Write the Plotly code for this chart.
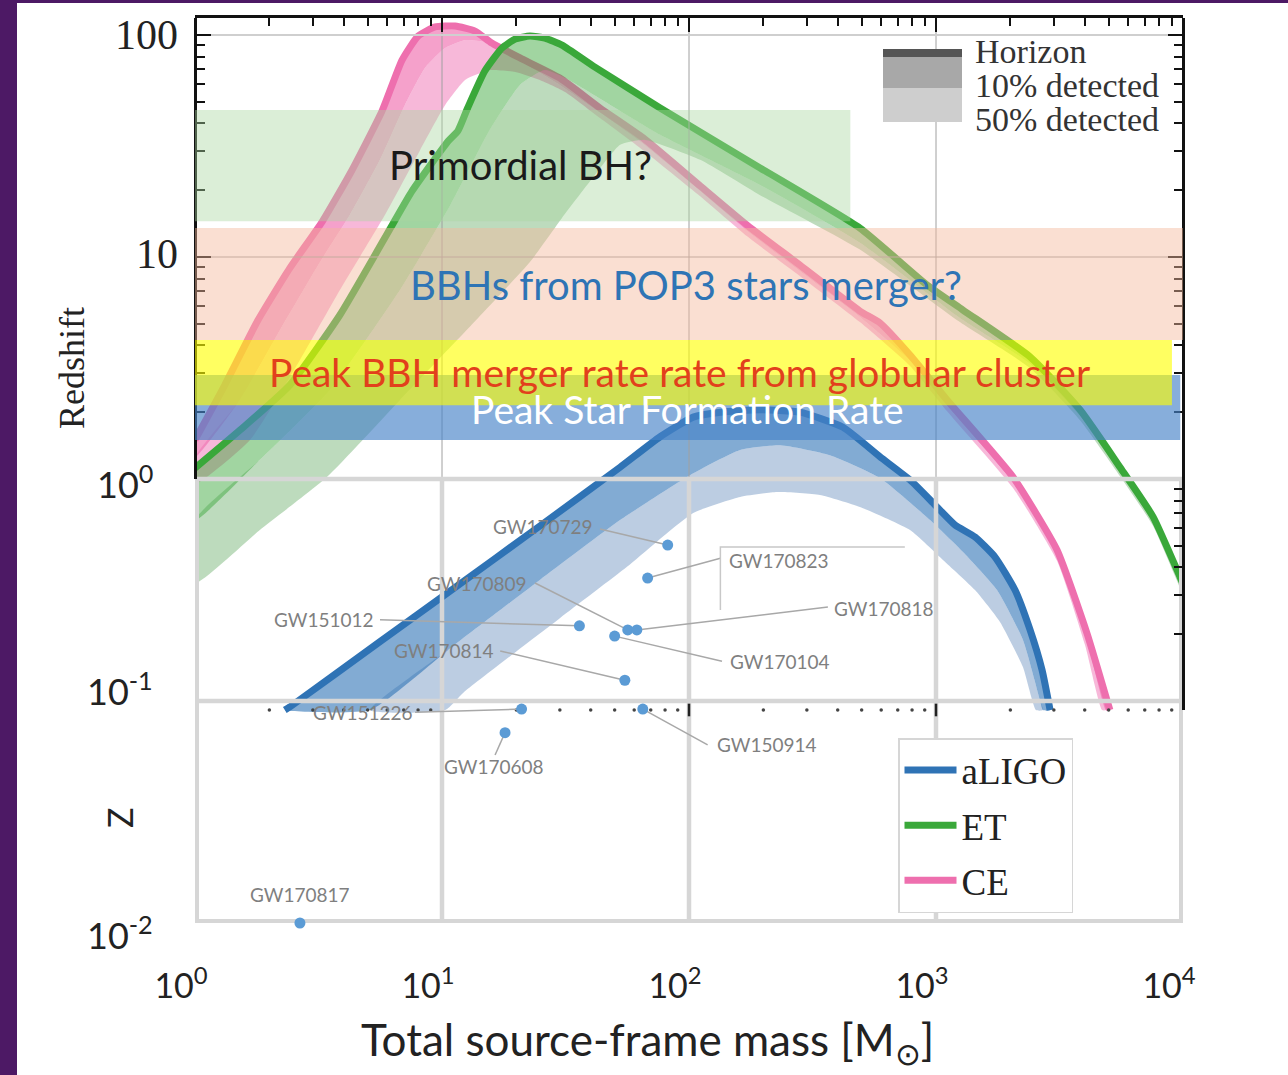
import numpy as np
import plotly.graph_objects as go

# ---------------- axis extents (data units) ----------------
mass_min, mass_max = 1.0, 1.0e4
z_min, z_max = 0.01, 119.3
z_panel_bottom = 0.0911   # lower edge of the original (upper) panel
z_panel_split = 1.0       # thin grid above, thick grid below

x_tick_vals = [1, 10, 100, 1000, 10000]
x_tick_text = ["10<sup>0</sup>", "10<sup>1</sup>", "10<sup>2</sup>", "10<sup>3</sup>", "10<sup>4</sup>"]
y_tick_vals = [100, 10, 1, 0.1, 0.01]
y_tick_text = ["100", "10", "10<sup>0</sup>", "10<sup>-1</sup>", "10<sup>-2</sup>"]
y_tick_serif = [True, True, False, False, False]

# ---------------- detector curves: total mass [Msun], redshift ----------------
aligo_hor_m = [2.31, 2.42, 5.61, 10.5, 24.9, 52.6, 76.4, 104, 134, 194, 281, 420, 593, 785, 991, 1194, 1439, 1734, 2089, 2404, 2687, 2897]
aligo_hor_z = [0.091, 0.094, 0.185, 0.306, 0.614, 1.13, 1.55, 1.90, 2.00, 2.05, 2.00, 1.71, 1.26, 0.99, 0.764, 0.621, 0.548, 0.445, 0.316, 0.209, 0.138, 0.091]
aligo_p10_m = [5.11, 10.8, 24.9, 52.6, 101, 161, 234, 372, 593, 946, 1286, 1766, 2251, 2636, 2710]
aligo_p10_z = [0.091, 0.173, 0.351, 0.653, 1.04, 1.35, 1.42, 1.28, 1.01, 0.653, 0.469, 0.316, 0.188, 0.101, 0.091]
aligo_p50_m = [10.3, 12.2, 30.0, 56.1, 104, 161, 227, 339, 492, 785, 1067, 1439, 1816, 2251, 2541]
aligo_p50_z = [0.091, 0.109, 0.236, 0.402, 0.703, 0.830, 0.873, 0.847, 0.748, 0.589, 0.432, 0.316, 0.227, 0.142, 0.091]

et_hor_m = [1.00, 1.52, 2.42, 3.86, 6.28, 7.56, 10.6, 11.6, 12.7, 14.9, 17.5, 19.8, 22.7, 26.1, 30.6, 41.6, 76.4, 194, 492, 920, 1286, 2404, 3828, 5559, 7568, 9727, 10670]
et_hor_z = [1.12, 1.66, 2.65, 5.48, 13.9, 19.8, 33.3, 37.0, 46.9, 68.8, 87.4, 95.9, 98.9, 96.9, 90.1, 71.7, 46.9, 25.2, 13.5, 7.48, 5.77, 3.55, 2.05, 1.13, 0.675, 0.362, 0.285]
et_p10_m = [1.00, 1.83, 3.52, 6.76, 10.8, 15.6, 20.7, 26.1, 31.5, 76.4, 194, 492, 1250, 2404, 3828, 5559, 7568, 10670]
et_p10_z = [0.653, 1.22, 2.52, 7.10, 17.1, 37.3, 59.6, 69.5, 64.0, 35.5, 21.1, 11.6, 5.31, 3.30, 1.92, 1.08, 0.640, 0.270]
et_p50_m = [1.00, 1.83, 3.42, 6.76, 14.0, 22.7, 30.6, 41.6, 52.6, 66.4, 111, 194, 492, 1250, 2404, 3828, 5559, 7568, 10670]
et_p50_z = [0.340, 0.589, 1.02, 2.27, 5.31, 9.49, 15.0, 23.4, 32.0, 33.7, 27.4, 19.0, 10.8, 5.09, 3.16, 1.84, 1.03, 0.614, 0.257]

ce_hor_m = [1.00, 1.32, 1.80, 2.42, 3.27, 4.32, 5.72, 6.89, 8.00, 9.37, 11.3, 13.6, 15.9, 20.7, 30.0, 43.6, 65.2, 111, 172, 281, 492, 593, 785, 1109, 2051, 3090, 4085, 5058]
ce_hor_z = [1.50, 2.65, 5.20, 8.91, 14.4, 24.6, 45.5, 77.1, 98.9, 108.7, 109.8, 104.2, 92.0, 78.8, 64.0, 46.9, 34.4, 20.9, 13.9, 9.2, 5.71, 5.05, 3.62, 2.27, 1.02, 0.479, 0.202, 0.091]
ce_p10_m = [1.00, 1.52, 2.21, 3.21, 4.24, 5.61, 7.08, 8.53, 10.3, 12.4, 14.9, 18.0, 22.7, 30.0, 43.6, 65.2, 111, 172, 281, 492, 785, 1109, 2051, 3090, 4085, 4876]
ce_p10_z = [1.25, 2.27, 4.69, 9.49, 15.5, 27.4, 48.4, 71.0, 87.4, 94.9, 93.0, 83.8, 71.7, 59.6, 44.6, 32.3, 19.8, 13.1, 8.65, 5.37, 3.41, 2.13, 0.960, 0.450, 0.188, 0.091]
ce_p50_m = [1.00, 1.67, 2.66, 3.86, 5.88, 8.15, 10.3, 12.4, 15.6, 19.8, 24.9, 31.5, 43.6, 65.2, 111, 172, 281, 492, 785, 1109, 2051, 3090, 4009, 4700]
ce_p50_z = [0.95, 1.50, 3.44, 7.10, 15.5, 30.3, 48.4, 62.7, 69.5, 68.1, 62.7, 55.4, 42.3, 30.3, 18.8, 12.4, 8.21, 5.09, 3.23, 2.02, 0.910, 0.428, 0.179, 0.091]

# ---------------- detected events ----------------
ev_names = ["GW150914", "GW151012", "GW151226", "GW170104", "GW170608", "GW170729",
            "GW170809", "GW170814", "GW170817", "GW170818", "GW170823"]
ev_mass = [65, 36, 21, 50, 18, 82, 56.5, 55, 2.66, 61.5, 68]
ev_z = [0.092, 0.218, 0.092, 0.196, 0.072, 0.504, 0.209, 0.124, 0.0100, 0.209, 0.358]
lab_mass = [207, 3.33, 4.79, 233, 16.2, 25.6, 13.9, 10.2, 2.66, 615, 231]
lab_z = [0.0634, 0.232, 0.089, 0.151, 0.0509, 0.608, 0.337, 0.168, 0.0134, 0.262, 0.431]
lead_mass = [119, 5.61, 7.78, 136, 16.4, 43.6, 23.8, 17.2, None, 365, 134]
lead_z = [0.0634, 0.232, 0.089, 0.151, 0.0571, 0.596, 0.340, 0.168, None, 0.265, 0.44]
bracket_mass = [748, 134, 134]
bracket_z = [0.494, 0.494, 0.257]

# ---------------- shaded bands ----------------
band_labels = ["BBHs from POP3 stars merger?", "Peak Star Formation Rate",
               "Peak BBH merger rate rate from globular cluster", "Primordial BH?"]
band_mass_lo = [1, 1, 1, 1]
band_mass_hi = [10000, 9750, 9020, 450]
band_z_lo = [4.23, 1.50, 2.15, 14.5]
band_z_hi = [13.5, 2.94, 4.23, 46.0]
band_text_mass = [97.3, 98.2, 91.2, 20.7]
band_text_z = [7.48, 2.06, 3.02, 25.9]

legend2_labels = ["Horizon", "10% detected", "50% detected"]

# ---------------- styling ----------------
band_colors = ["rgba(245,185,155,0.45)", "rgba(70,130,200,0.65)",
               "rgba(255,255,0,0.62)", "rgba(170,215,160,0.42)"]
band_text_colors = ["#2e74b5", "#ffffff", "#e2401c", "#1a1a1a"]
band_text_sizes = [40, 39, 39, 40]
SANS = "Lato"
SERIF = "Liberation Serif"

W, H = 1288, 1075
ML, MR, MT, MB = 195, 105, 18, 152
PW, PH = W - ML - MR, H - MT - MB


def px_x(p):
    return (p - ML) / PW


def px_y(p):
    return 1 - (p - MT) / PH


ylog = [np.log10(z_min), np.log10(z_max)]
xlog = [np.log10(mass_min), np.log10(mass_max)]

fig = go.Figure()


def polygon(ma, za, mb, zb):
    return list(ma) + list(mb)[::-1] + [ma[0]], list(za) + list(zb)[::-1] + [za[0]]


detectors = [
    dict(name="aLIGO", color="#2f73b5", f10="rgba(47,115,181,0.60)", f50="rgba(95,135,185,0.42)",
         hor=(aligo_hor_m, aligo_hor_z), p10=(aligo_p10_m, aligo_p10_z), p50=(aligo_p50_m, aligo_p50_z), rank=1),
    dict(name="CE", color="#ee6fae", f10="rgba(240,110,175,0.65)", f50="rgba(240,125,185,0.55)",
         hor=(ce_hor_m, ce_hor_z), p10=(ce_p10_m, ce_p10_z), p50=(ce_p50_m, ce_p50_z), rank=3),
    dict(name="ET", color="#3aa83a", f10="rgba(58,168,58,0.48)", f50="rgba(90,165,90,0.40)",
         hor=(et_hor_m, et_hor_z), p10=(et_p10_m, et_p10_z), p50=(et_p50_m, et_p50_z), rank=2),
]
for d in detectors:
    xs, ys = polygon(*d["p10"], *d["p50"])
    fig.add_trace(go.Scatter(x=xs, y=ys, mode="lines", fill="toself", fillcolor=d["f50"],
                             line=dict(width=0, shape="spline", smoothing=0.5),
                             showlegend=False, hoverinfo="skip", legendgroup=d["name"]))
    xs, ys = polygon(*d["hor"], *d["p10"])
    fig.add_trace(go.Scatter(x=xs, y=ys, mode="lines", fill="toself", fillcolor=d["f10"],
                             line=dict(width=0, shape="spline", smoothing=0.5),
                             showlegend=False, hoverinfo="skip", legendgroup=d["name"]))
    fig.add_trace(go.Scatter(x=d["hor"][0], y=d["hor"][1], mode="lines", name=d["name"],
                             line=dict(color=d["color"], width=7, shape="spline", smoothing=0.5),
                             legendgroup=d["name"], legendrank=d["rank"], hoverinfo="skip"))


# ---------------- grid lines ----------------
def seg_trace(xs, ys, color, width):
    return go.Scatter(x=xs, y=ys, mode="lines", line=dict(color=color, width=width),
                      showlegend=False, hoverinfo="skip")


gx, gy = [], []
for v in x_tick_vals[1:-1]:
    gx += [v, v, None]
    gy += [z_panel_split, z_max, None]
gx += [mass_min, mass_max, None]
gy += [10, 10, None]
fig.add_trace(seg_trace(gx, gy, "#a0a0a0", 1))
fig.add_trace(seg_trace([mass_min, mass_max], [100, 100], "#cfcfcf", 2))

tx, ty = [], []
for v in x_tick_vals[1:-1]:
    tx += [v, v, None]
    ty += [z_min, z_panel_split, None]
for zv in [1, 0.1]:
    tx += [mass_min, mass_max, None]
    ty += [zv, zv, None]
fig.add_trace(seg_trace(tx, ty, "#d6d6d6", 4.5))
ex = [mass_min, mass_min, None, mass_max, mass_max, None, mass_min, mass_max]
ey = [z_min, z_panel_split, None, z_min, z_panel_split, None, z_min, z_min]
fig.add_trace(seg_trace(ex, ey, "#d6d6d6", 8))

# dotted lower edge of the original panel (minor ticks shown as dots)
minor_x = [k * 10 ** e for e in range(0, 4) for k in range(2, 10)]
fig.add_trace(go.Scatter(x=minor_x, y=[z_panel_bottom] * len(minor_x), mode="markers",
                         marker=dict(color="#444", size=3.5), showlegend=False, hoverinfo="skip"))
fig.add_trace(go.Scatter(x=x_tick_vals[2:-1], y=[z_panel_bottom] * 2, mode="markers",
                         marker=dict(color="#222", size=9, symbol="line-ns-open", line=dict(width=2.5)),
                         showlegend=False, hoverinfo="skip"))

# ---------------- events ----------------
lx, ly = [], []
for m, z, a, b in zip(ev_mass, ev_z, lead_mass, lead_z):
    if a is None:
        continue
    lx += [a, m, None]
    ly += [b, z, None]
fig.add_trace(seg_trace(lx, ly, "#a8a8a8", 1.5))
fig.add_trace(seg_trace(bracket_mass, bracket_z, "#c8c8c8", 1.5))
fig.add_trace(go.Scatter(x=ev_mass, y=ev_z, mode="markers", cliponaxis=False,
                         marker=dict(color="#5b9bd5", size=11), showlegend=False,
                         text=ev_names, hoverinfo="text"))

# ---------------- helper axes for the black frame of the original panel ----------------
fig.add_trace(go.Scatter(x=[None], y=[None], xaxis="x2", yaxis="y", showlegend=False, hoverinfo="skip"))
fig.add_trace(go.Scatter(x=[None], y=[None], xaxis="x", yaxis="y2", showlegend=False, hoverinfo="skip"))
fig.add_trace(go.Scatter(x=[None], y=[None], xaxis="x", yaxis="y3", showlegend=False, hoverinfo="skip"))

span = ylog[1] - ylog[0]
dom2 = (np.log10(z_panel_bottom) - ylog[0]) / span
dom3 = (np.log10(z_panel_split) - ylog[0]) / span
minor_y2 = [k * 10 ** e for e in range(-2, 3) for k in range(2, 10) if z_panel_bottom < k * 10 ** e < z_max]
minor_y3 = [v for v in minor_y2 if v > z_panel_split]

frame_common = dict(type="log", showline=True, linecolor="#111", linewidth=3, ticks="inside",
                    ticklen=14, tickwidth=2, tickcolor="#111", showticklabels=False,
                    showgrid=False, zeroline=False)

# ---------------- shapes ----------------
shapes = []
for i in range(len(band_labels)):
    shapes.append(dict(type="rect", xref="x", yref="y", layer="above", line=dict(width=0),
                       x0=band_mass_lo[i], x1=band_mass_hi[i], y0=band_z_lo[i], y1=band_z_hi[i],
                       fillcolor=band_colors[i]))
# "Horizon / 10% / 50%" key boxes
key_rows = [(49, 57, "#555555"), (57, 88, "#a8a8a8"), (88, 122, "#cecece")]
for y0, y1, c in key_rows:
    shapes.append(dict(type="rect", xref="paper", yref="paper", layer="above", line=dict(width=0),
                       x0=px_x(883), x1=px_x(962), y0=px_y(y1), y1=px_y(y0), fillcolor=c))
# slide border
shapes.append(dict(type="rect", xref="paper", yref="paper", layer="above", line=dict(width=0),
                   x0=px_x(0), x1=px_x(17), y0=px_y(H), y1=px_y(0), fillcolor="#4d1965"))
shapes.append(dict(type="rect", xref="paper", yref="paper", layer="above", line=dict(width=0),
                   x0=px_x(0), x1=px_x(W), y0=px_y(3), y1=px_y(0), fillcolor="#4d1965"))

# ---------------- annotations ----------------
ann = []
for i, t in enumerate(band_labels):
    ann.append(dict(x=np.log10(band_text_mass[i]), y=np.log10(band_text_z[i]), xref="x", yref="y",
                    xanchor="center", yanchor="middle", text=t, showarrow=False,
                    font=dict(family=SANS, size=band_text_sizes[i], color=band_text_colors[i])))
for n, m, z in zip(ev_names, lab_mass, lab_z):
    ann.append(dict(x=np.log10(m), y=np.log10(z), xref="x", yref="y", text=n, showarrow=False,
                    xanchor="center", yanchor="middle",
                    font=dict(family=SANS, size=19, color="#7f7f7f")))
y_label_shift = [0, 3, -3, 12, -10]
for v, t, s, sh in zip(y_tick_vals, y_tick_text, y_tick_serif, y_label_shift):
    ann.append(dict(x=0, xref="paper", xanchor="right", xshift=-15 if s else -40,
                    y=np.log10(v), yref="y", yanchor="middle", yshift=sh, text=t, showarrow=False,
                    font=dict(family=SERIF if s else SANS, size=42 if s else 36, color="#222")))
for t, yy in zip(legend2_labels, [52, 86, 120]):
    ann.append(dict(x=px_x(973), y=px_y(yy), xref="paper", yref="paper", xanchor="left",
                    yanchor="middle", text=t, showarrow=False,
                    font=dict(family=SERIF, size=34, color="#333")))
ann.append(dict(x=px_x(72), y=px_y(368), xref="paper", yref="paper", text="Redshift",
                xanchor="center", yanchor="middle",
                textangle=-90, showarrow=False, font=dict(family=SERIF, size=36, color="#222")))
ann.append(dict(x=px_x(119), y=px_y(818), xref="paper", yref="paper", text="Z",
                xanchor="center", yanchor="middle",
                textangle=-90, showarrow=False, font=dict(family=SANS, size=34, color="#222")))
ann.append(dict(x=px_x(647), y=px_y(1042), xref="paper", yref="paper",
                xanchor="center", yanchor="middle",
                text="Total source-frame mass [M<sub>⊙</sub>]", showarrow=False,
                font=dict(family=SANS, size=44, color="#222")))

fig.update_layout(
    width=W, height=H,
    margin=dict(l=ML, r=MR, t=MT, b=MB, pad=0),
    paper_bgcolor="white", plot_bgcolor="rgba(0,0,0,0)",
    showlegend=True,
    legend=dict(x=px_x(898), y=px_y(738), xanchor="left", yanchor="top",
                bgcolor="white", bordercolor="#d6d6d6", borderwidth=1.5, itemwidth=52,
                font=dict(family=SERIF, size=37, color="#222"), tracegroupgap=4),
    xaxis=dict(type="log", range=xlog, showgrid=False, zeroline=False, showline=False, ticks="",
               tickvals=x_tick_vals, ticktext=x_tick_text,
               tickfont=dict(family=SANS, size=34, color="#222"),
               ticklabelstandoff=40, ticklabelshift=-14),
    yaxis=dict(type="log", range=ylog, showgrid=False, zeroline=False, showline=False,
               ticks="", showticklabels=False),
    xaxis2=dict(range=xlog, overlaying="x", side="top", anchor="y",
                tickvals=x_tick_vals,
                minor=dict(ticks="inside", ticklen=8, tickwidth=1.5, tickcolor="#111",
                           tickvals=minor_x, showgrid=False),
                **frame_common),
    yaxis2=dict(range=[np.log10(z_panel_bottom), ylog[1]], domain=[dom2, 1], anchor="free",
                position=1, side="right", tickvals=[10, 100],
                minor=dict(ticks="inside", ticklen=8, tickwidth=1.5, tickcolor="#111",
                           tickvals=minor_y2, showgrid=False),
                **frame_common),
    yaxis3=dict(range=[np.log10(z_panel_split), ylog[1]], domain=[dom3, 1], anchor="free",
                position=0, side="left", tickvals=[10, 100],
                minor=dict(ticks="inside", ticklen=8, tickwidth=1.5, tickcolor="#111",
                           tickvals=minor_y3, showgrid=False),
                **frame_common),
    shapes=shapes,
    annotations=ann,
)

fig.write_html("out.html", config={"displayModeBar": False},
               post_script="document.body.style.margin='0';document.body.style.overflow='hidden';")
